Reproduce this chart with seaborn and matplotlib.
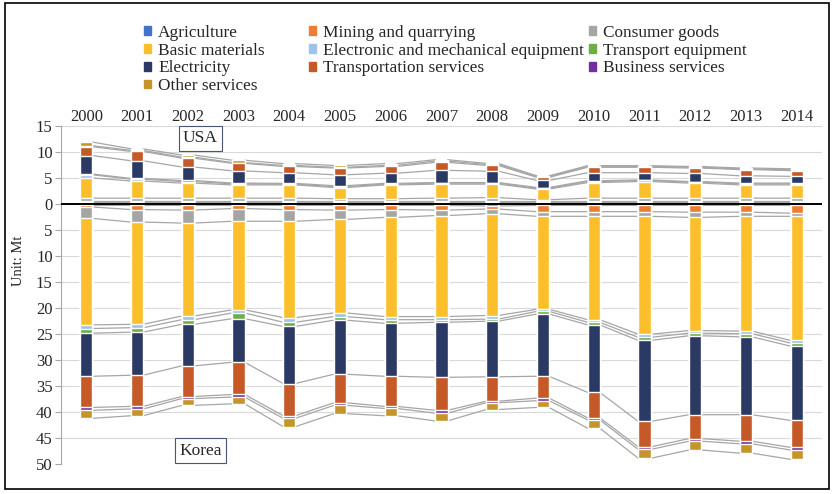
import numpy as np
import pandas as pd
import seaborn as sns
from matplotlib import pyplot as plt
from matplotlib.patches import Patch, Rectangle

years = [str(y) for y in range(2000, 2015)]

sectors = ['Agriculture', 'Mining and quarrying', 'Consumer goods', 'Basic materials',
           'Electronic and mechanical equipment', 'Transport equipment', 'Electricity',
           'Transportation services', 'Business services', 'Other services']

# USA (upper half), Mt
usa_agriculture = [0.35] * 15
usa_mining = [0.15] * 15
usa_consumer = [0.6, 0.6, 0.6, 0.6, 0.6, 0.5, 0.5, 0.6, 0.7, 0.3, 0.6, 0.6, 0.6, 0.6, 0.6]
usa_basic = [3.9, 3.3, 2.9, 2.55, 2.55, 2.15, 2.65, 2.7, 2.6, 2.05, 3.0, 3.2, 2.9, 2.55, 2.55]
usa_electronic = [0.6, 0.35, 0.3, 0.2, 0.15, 0.15, 0.15, 0.2, 0.2, 0.15, 0.2, 0.2, 0.2, 0.2, 0.2]
usa_transport_eq = [0.15, 0.15, 0.2, 0.15, 0.15, 0.2, 0.15, 0.1, 0.1, 0.15, 0.15, 0.1, 0.1, 0.15, 0.15]
usa_electricity = [3.55, 3.4, 2.6, 2.35, 2.05, 2.1, 1.95, 2.35, 2.2, 1.35, 1.55, 1.4, 1.55, 1.4, 1.3]
usa_transport_serv = [1.7, 1.8, 1.7, 1.45, 1.2, 1.3, 1.3, 1.55, 1.1, 0.6, 1.05, 1.05, 1.05, 1.2, 1.1]
usa_business = [0.2, 0.2, 0.2, 0.15, 0.2, 0.15, 0.2, 0.25, 0.2, 0.15, 0.15, 0.15, 0.15, 0.15, 0.15]
usa_other = [0.7, 0.3, 0.4, 0.45, 0.35, 0.35, 0.35, 0.25, 0.2, 0.15, 0.15, 0.15, 0.15, 0.15, 0.2]

# Korea (lower half), Mt
kor_agriculture = [0.3, 0.3, 0.3, 0.3, 0.3, 0.3, 0.3, 0.3, 0.4, 0.3, 0.3, 0.3, 0.3, 0.3, 0.3]
kor_mining = [0.3, 0.8, 0.9, 0.6, 0.8, 0.9, 0.8, 0.9, 0.6, 1.2, 1.2, 1.2, 1.3, 1.3, 1.5]
kor_consumer = [2.2, 2.4, 2.5, 2.45, 2.25, 1.8, 1.5, 1.05, 0.9, 0.9, 0.9, 0.9, 1.0, 0.8, 0.6]
kor_basic = [20.5, 19.7, 17.9, 17.05, 18.55, 18.0, 19.1, 19.45, 19.6, 17.9, 19.9, 22.7, 21.8, 22.1, 23.9]
kor_electronic = [0.7, 0.65, 0.7, 0.6, 0.9, 0.7, 0.6, 0.6, 0.7, 0.4, 0.5, 0.6, 0.5, 0.5, 0.5]
kor_transport_eq = [0.9, 0.85, 0.9, 1.1, 0.8, 0.7, 0.7, 0.5, 0.4, 0.5, 0.5, 0.6, 0.5, 0.6, 0.6]
kor_electricity = [8.3, 8.3, 8.0, 8.4, 11.0, 10.4, 10.2, 10.6, 10.7, 12.0, 13.0, 15.6, 15.2, 15.0, 14.3]
kor_transport_serv = [6.0, 6.0, 5.9, 6.2, 6.2, 5.5, 5.8, 6.35, 4.7, 4.2, 4.9, 4.9, 4.6, 5.1, 5.2]
kor_business = [0.55, 0.5, 0.4, 0.5, 0.5, 0.5, 0.4, 0.55, 0.3, 0.5, 0.4, 0.5, 0.5, 0.5, 0.5]
kor_other = [1.55, 1.3, 1.3, 1.3, 1.6, 1.6, 1.4, 1.5, 1.3, 1.3, 1.6, 1.7, 1.7, 1.8, 1.8]

colors = ['#4472C4', '#ED7D31', '#A5A5A5', '#FBBF2B', '#9DC3E6', '#70AD47',
          '#2B3A64', '#C55A28', '#7030A0', '#C5952B']

usa = [usa_agriculture, usa_mining, usa_consumer, usa_basic, usa_electronic,
       usa_transport_eq, usa_electricity, usa_transport_serv, usa_business, usa_other]
kor = [kor_agriculture, kor_mining, kor_consumer, kor_basic, kor_electronic,
       kor_transport_eq, kor_electricity, kor_transport_serv, kor_business, kor_other]

rows = []
for country, sign, series in [('USA', 1, usa), ('Korea', -1, kor)]:
    for s, vals in zip(sectors, series):
        for y, v in zip(years, vals):
            rows.append((country, s, y, sign * v))
df = pd.DataFrame(rows, columns=['country', 'sector', 'year', 'value'])
df['sector'] = pd.Categorical(df['sector'], sectors, ordered=True)
df = df.sort_values(['country', 'year', 'sector'])
df['cum'] = df.groupby(['country', 'year'])['value'].cumsum()

sns.set_style('white')
plt.rcParams['font.family'] = ['Liberation Serif', 'DejaVu Serif']

fig = plt.figure(figsize=(8.34, 4.94), dpi=100)
ax = fig.add_axes([0.0731, 0.0617, 0.9125, 0.6833])

bar_w = 0.24
# overlapping cumulative bars, outermost first
for s, c in reversed(list(zip(sectors, colors))):
    for country in ['USA', 'Korea']:
        sub = df[(df['sector'] == s) & (df['country'] == country)]
        sns.barplot(data=sub, x='year', y='cum', order=years, color=c,
                    width=bar_w, saturation=1, errorbar=None, ax=ax, zorder=3)

# series lines between neighbouring bars
for country in ['USA', 'Korea']:
    for s in sectors:
        lev = df[(df['sector'] == s) & (df['country'] == country)].set_index('year').loc[years, 'cum'].values
        xs, ys = [], []
        for i in range(len(years) - 1):
            xs += [i + bar_w / 2, i + 1 - bar_w / 2, np.nan]
            ys += [lev[i], lev[i + 1], np.nan]
        ax.plot(xs, ys, color='#A6A6A6', lw=0.9, zorder=2)

ax.axhline(0, color='black', lw=1.4, zorder=4)
ax.set_xlim(-0.5, len(years) - 0.5)
ax.set_ylim(-50, 15)
yt = np.arange(-50, 16, 5)
ax.set_yticks(yt)
ax.set_yticklabels([str(abs(v)) for v in yt], fontsize=12)
ax.yaxis.grid(True, color='#D9D9D9', lw=0.8)
ax.set_axisbelow(True)
ax.tick_params(axis='y', length=4, color='#A6A6A6', pad=2, left=True)
ax.xaxis.tick_top()
ax.tick_params(axis='x', length=0, pad=1, labelsize=12)
ax.set_xlabel('')
ax.set_ylabel('Unit: Mt', fontsize=10.5)
ax.yaxis.set_label_coords(-0.047, 0.6)
for side in ['top', 'right', 'bottom']:
    ax.spines[side].set_visible(False)
ax.spines['left'].set_color('#A6A6A6')

box = dict(boxstyle='square,pad=0.25', fc='white', ec='#4A5670', lw=0.8)
ax.text(2.25, 12.6, 'USA', ha='center', va='center', fontsize=12.5, bbox=box, zorder=5)
ax.text(2.25, -47.5, 'Korea', ha='center', va='center', fontsize=12.5, bbox=box, zorder=5)

# legend laid out row by row, one legend per column
handles = [Patch(color=c, label=s) for s, c in zip(sectors, colors)]
columns = [([0, 3, 6, 9], 144), ([1, 4, 7], 309), ([2, 5, 8], 589)]
for idx, xpx in columns:
    fig.legend([handles[i] for i in idx], [sectors[i] for i in idx],
               loc='upper left', bbox_to_anchor=(xpx / 834, 1 - 25 / 494), frameon=False,
               fontsize=12.4, handlelength=0.42, handleheight=0.42, handletextpad=0.4,
               labelspacing=0.1, borderpad=0, borderaxespad=0)

fig.patches.append(Rectangle((0.0056, 0.0107), 0.988, 0.983, transform=fig.transFigure,
                             fill=False, ec='black', lw=1.2))

plt.savefig('out.png', dpi=100)
plt.close()
